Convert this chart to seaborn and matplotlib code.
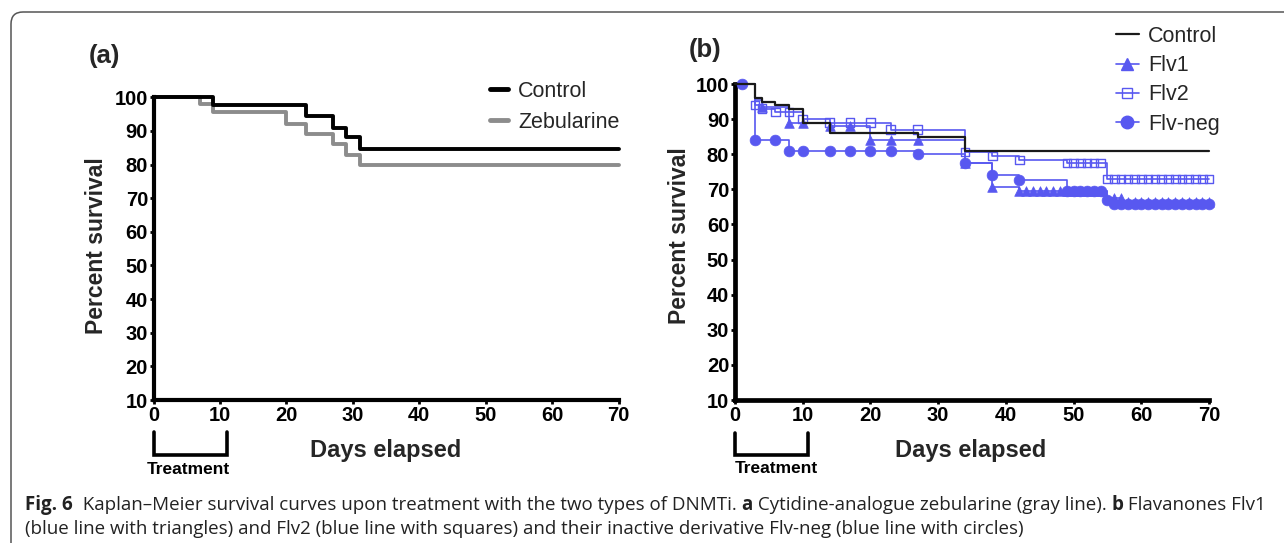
import matplotlib
matplotlib.use("Agg")
import matplotlib.pyplot as plt
import matplotlib.transforms as mtransforms
import seaborn as sns
from matplotlib.lines import Line2D
from matplotlib.path import Path
from matplotlib.patches import PathPatch
from matplotlib import font_manager

# ---- panel (a): step curves ----
days_ctrl_a = [0, 9, 23, 27, 29, 31, 70]
surv_ctrl_a = [100, 97.7, 94.5, 91.0, 88.2, 84.6, 84.6]
days_zeb = [0, 7, 9, 20, 23, 27, 29, 31, 70]
surv_zeb = [100, 97.9, 95.6, 92.2, 89.2, 86.0, 82.9, 80.0, 80.0]

# ---- panel (b): step curves ----
days_ctrl_b = [0, 3, 4, 6, 8, 10, 14, 27, 34, 70]
surv_ctrl_b = [100, 96, 95, 94, 93, 89, 86, 85, 81, 81]
days_flv1 = [0, 3, 4, 8, 14, 20, 34, 38, 42, 55, 57, 70]
surv_flv1 = [100, 95.5, 93.5, 89, 88, 84, 77.5, 70.8, 69.6, 67.6, 66.5, 66.5]
days_flv2 = [0, 3, 4, 6, 10, 14, 23, 34, 38, 42, 49, 55, 70]
surv_flv2 = [100, 94, 93, 92, 90, 89, 87, 80.6, 79.5, 78.4, 77.5, 73, 73]
days_neg = [0, 3, 8, 27, 34, 38, 42, 49, 55, 56, 70]
surv_neg = [100, 84, 81, 80, 77.5, 74, 72.8, 69.6, 67, 65.8, 65.8]

# ---- panel (b): symbols ----
mark_flv1_x = [4, 8, 10, 14, 17, 20, 23, 27, 34, 38,
               42, 43, 44, 45, 46, 47, 48, 49, 50, 51, 52, 53, 54,
               56, 57,
               58, 59, 60, 61, 62, 63, 64, 65, 66, 67, 68, 69, 70]
mark_flv1_y = [93.5, 89, 89, 88, 88, 84, 84, 84, 77.5, 70.8,
               69.6, 69.6, 69.6, 69.6, 69.6, 69.6, 69.6, 69.6, 69.6, 69.6, 69.6, 69.6, 69.6,
               67.6, 67.6,
               66.5, 66.5, 66.5, 66.5, 66.5, 66.5, 66.5, 66.5, 66.5, 66.5, 66.5, 66.5, 66.5]
mark_flv2_x = [3, 4, 6, 8, 10, 14, 17, 20, 23, 27, 34, 38, 42,
               49, 50, 51, 52, 53, 54,
               55, 56, 57, 58, 59, 60, 61, 62, 63, 64, 65, 66, 67, 68, 69, 70]
mark_flv2_y = [94, 93, 92, 92, 90, 89, 89, 89, 87, 87, 80.6, 79.5, 78.4,
               77.5, 77.5, 77.5, 77.5, 77.5, 77.5,
               73, 73, 73, 73, 73, 73, 73, 73, 73, 73, 73, 73, 73, 73, 73, 73]
mark_neg_x = [1, 3, 6, 8, 10, 14, 17, 20, 23, 27, 34, 38, 42,
              49, 50, 51, 52, 53, 54, 55,
              56, 57, 58, 59, 60, 61, 62, 63, 64, 65, 66, 67, 68, 69, 70]
mark_neg_y = [100, 84, 84, 81, 81, 81, 81, 81, 81, 80, 77.5, 74, 72.8,
              69.6, 69.6, 69.6, 69.6, 69.6, 69.6, 67,
              65.8, 65.8, 65.8, 65.8, 65.8, 65.8, 65.8, 65.8, 65.8, 65.8, 65.8, 65.8, 65.8, 65.8, 65.8]

BLUE = '#5858f0'
GRAY = '#8c8c8c'
W, H = 1284, 546

sns.set_theme(style="white")
plt.rcParams['font.family'] = ['Liberation Sans', 'DejaVu Sans']

fig = plt.figure(figsize=(W / 100, H / 100), dpi=100)


def px_rect(x0, x1, ytop, ybot):
    return [x0 / W, 1 - ybot / H, (x1 - x0) / W, (ybot - ytop) / H]


ax_a = fig.add_axes(px_rect(153.6, 618.7, 97.3, 400))
ax_b = fig.add_axes(px_rect(734.8, 1209.1, 84, 400))


def style_axes(ax, spine_w, ylab_x, ylab_y, xlab_y):
    ax.set_xlim(0, 70)
    ax.set_ylim(10, 100)
    ax.set_xticks(range(0, 71, 10))
    ax.set_yticks(range(10, 101, 10))
    ax.grid(False)
    ax.patch.set_alpha(0)
    for s in ['top', 'right']:
        ax.spines[s].set_visible(False)
    for s in ['left', 'bottom']:
        ax.spines[s].set_linewidth(spine_w)
        ax.spines[s].set_color('black')
    ax.tick_params(axis='both', direction='out', length=3, width=2, colors='black',
                   labelsize=14.5, pad=1, left=True, bottom=True)
    for lab in ax.get_xticklabels() + ax.get_yticklabels():
        lab.set_fontweight('bold')
    ax.set_xlabel('Days elapsed', fontsize=17, fontweight='bold')
    ax.set_ylabel('Percent survival', fontsize=16.5, fontweight='bold')
    ax.xaxis.set_label_coords(0.498, xlab_y)
    ax.yaxis.set_label_coords(ylab_x, ylab_y)


def treatment_bracket(ax, x_right, y_top, y_bot, text_x, text_y):
    trans = mtransforms.blended_transform_factory(ax.transData, ax.transAxes)
    ax.plot([0, 0, x_right, x_right], [y_top, y_bot, y_bot, y_top], color='black',
            lw=2.6, transform=trans, clip_on=False, solid_joinstyle='miter')
    ax.text(text_x, text_y, 'Treatment', transform=trans, ha='center', va='center',
            fontsize=12.5, fontweight='bold', color='black')


# ---- panel (a) ----
sns.lineplot(x=days_zeb, y=surv_zeb, ax=ax_a, drawstyle='steps-post', color=GRAY,
             lw=2.8, estimator=None, sort=False, legend=False, clip_on=False)
sns.lineplot(x=days_ctrl_a, y=surv_ctrl_a, ax=ax_a, drawstyle='steps-post', color='black',
             lw=2.8, estimator=None, sort=False, legend=False, clip_on=False)
style_axes(ax_a, 3.0, -0.097, 0.51, -0.128)
treatment_bracket(ax_a, 11, -0.105, -0.182, 5.2, -0.228)
ax_a.legend([Line2D([], [], color='black', lw=3.5), Line2D([], [], color=GRAY, lw=3.5)],
            ['Control', 'Zebularine'], loc='upper left', bbox_to_anchor=(490 / W, 1 - 81 / H),
            bbox_transform=fig.transFigure, frameon=False, fontsize=15.5, handlelength=0.85,
            handletextpad=0.45, labelspacing=0.45, borderpad=0, borderaxespad=0)

# ---- panel (b) ----
for dx, sy in [(days_flv1, surv_flv1), (days_flv2, surv_flv2), (days_neg, surv_neg)]:
    sns.lineplot(x=dx, y=sy, ax=ax_b, drawstyle='steps-post', color=BLUE, lw=1.2,
                 estimator=None, sort=False, legend=False, clip_on=False)
sns.lineplot(x=days_ctrl_b, y=surv_ctrl_b, ax=ax_b, drawstyle='steps-post', color='#1a1a1a',
             lw=1.6, estimator=None, sort=False, legend=False, clip_on=False, zorder=5)

sns.scatterplot(x=mark_flv1_x, y=mark_flv1_y, ax=ax_b, marker='^', s=48, color=BLUE,
                edgecolor=BLUE, linewidth=0.5, clip_on=False, zorder=4, legend=False)
sns.scatterplot(x=mark_flv2_x, y=mark_flv2_y, ax=ax_b, marker='s', s=38, color=BLUE,
                edgecolor=BLUE, linewidth=1.0, clip_on=False, zorder=4, legend=False)
ax_b.collections[-1].set_facecolor('none')
sns.scatterplot(x=mark_neg_x, y=mark_neg_y, ax=ax_b, marker='o', s=60, color=BLUE,
                edgecolor=BLUE, linewidth=0.5, clip_on=False, zorder=4, legend=False)
style_axes(ax_b, 3.4, -0.093, 0.52, -0.123)
treatment_bracket(ax_b, 10.8, -0.104, -0.174, 6.2, -0.218)

legend_b = [
    Line2D([], [], color='#1a1a1a', lw=1.6),
    Line2D([], [], color=BLUE, lw=1.2, marker='^', ms=8, mec=BLUE),
    Line2D([], [], color=BLUE, lw=1.2, marker='s', ms=7.5, mfc='none', mec=BLUE),
    Line2D([], [], color=BLUE, lw=1.2, marker='o', ms=9, mec=BLUE),
]
ax_b.legend(legend_b, ['Control', 'Flv1', 'Flv2', 'Flv-neg'], loc='upper left',
            bbox_to_anchor=(1116 / W, 1 - 26 / H), bbox_transform=fig.transFigure,
            frameon=False, fontsize=15.5, handlelength=1.05, handletextpad=0.45,
            labelspacing=0.38, borderpad=0, borderaxespad=0, numpoints=1)

# ---- panel letters ----
fig.text(89 / W, 1 - 56 / H, '(a)', fontsize=18.5, fontweight='bold', va='center', ha='left')
fig.text(689 / W, 1 - 50 / H, '(b)', fontsize=18.5, fontweight='bold', va='center', ha='left')

# ---- frame: rounded corner top-left, top and left edges only ----
def fx(x):
    return x / W


def fy(y):
    return 1 - y / H


frame = Path([(fx(11), fy(543)), (fx(11), fy(24)), (fx(11), fy(12)), (fx(23), fy(12)),
              (fx(1284), fy(12))],
             [Path.MOVETO, Path.LINETO, Path.CURVE3, Path.CURVE3, Path.LINETO])
fig.patches.append(PathPatch(frame, transform=fig.transFigure, fill=False,
                             edgecolor='#555555', lw=1.1))

# ---- caption ----
names = {f.name for f in font_manager.fontManager.ttflist}
cap_font = 'Liberation Sans Narrow' if 'Liberation Sans Narrow' in names else 'Open Sans'
CAP_COLOR = '#222222'

line1 = [('Fig. 6', 'bold'),
         ('  Kaplan\u2013Meier survival curves upon treatment with the two types of DNMTi. ', 'normal'),
         ('a', 'bold'), (' Cytidine-analogue zebularine (gray line). ', 'normal'),
         ('b', 'bold'), (' Flavanones Flv1', 'normal')]
line2 = [('(blue line with triangles) and Flv2 (blue line with squares) and their inactive '
          'derivative Flv-neg (blue line with circles)', 'normal')]


def draw_parts(parts, x_px, y_px, size):
    renderer = fig.canvas.get_renderer()
    cur = x_px
    made = []
    for txt, weight in parts:
        t = fig.text(cur / W, fy(y_px), txt, fontsize=size, fontweight=weight,
                     family=[cap_font, 'DejaVu Sans'], color=CAP_COLOR, va='center', ha='left')
        cur += t.get_window_extent(renderer).width
        made.append(t)
    return made, cur - x_px


trial, width = draw_parts(line1, 25, 505, 12)
for t in trial:
    t.remove()
cap_size = 12 * (1262 - 25) / width
draw_parts(line1, 25, 505, cap_size)
draw_parts(line2, 25, 529, cap_size)

fig.savefig('out.png', dpi=100)
